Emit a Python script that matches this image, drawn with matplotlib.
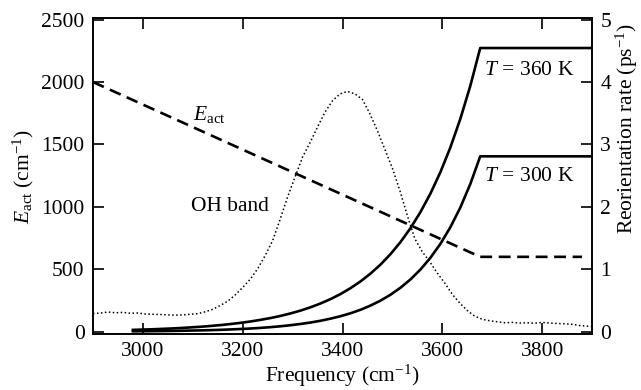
import matplotlib
matplotlib.use("Agg")
import matplotlib.pyplot as plt

plt.rcParams['font.family'] = ['Liberation Serif', 'DejaVu Serif']
plt.rcParams['mathtext.fontset'] = 'custom'
plt.rcParams['mathtext.rm'] = 'Liberation Serif'
plt.rcParams['mathtext.it'] = 'Liberation Serif:italic'
plt.rcParams['mathtext.bf'] = 'Liberation Serif:bold'
plt.rcParams['font.size'] = 15.5

# OH band (dotted, left axis scale)
oh_freq = [2900, 2915, 2930, 2945, 2960, 2975, 2990, 3005, 3020, 3035, 3050, 3065,
           3080, 3095, 3110, 3125, 3140, 3155, 3170, 3185, 3200, 3215, 3230, 3245,
           3260, 3275, 3290, 3305, 3320, 3335, 3350, 3365, 3380, 3395, 3410, 3425,
           3440, 3455, 3470, 3485, 3500, 3515, 3530, 3545, 3560, 3575, 3590, 3605,
           3620, 3635, 3650, 3665, 3680, 3695, 3710, 3725, 3740, 3755, 3770, 3785,
           3800, 3815, 3830, 3845, 3860, 3875, 3890, 3900]
oh_band = [145, 150, 158, 152, 155, 148, 150, 142, 140, 138, 135, 133,
           135, 140, 145, 160, 180, 210, 245, 295, 355, 420, 505, 610,
           730, 900, 1080, 1240, 1400, 1515, 1640, 1760, 1850, 1905, 1925, 1905,
           1860, 1745, 1610, 1460, 1310, 1130, 930, 745, 640, 560, 470, 390,
           300, 230, 170, 125, 100, 88, 80, 72, 75, 70, 72, 68,
           75, 70, 66, 64, 60, 50, 45, 42]

# Activation energy (dashed)
eact_freq = [2900, 3676, 3880]
eact = [2000, 600, 600]

# Reorientation rates (solid, right axis)
rate_freq = [2980, 2996, 3016, 3036, 3056, 3076, 3096, 3116, 3136, 3156, 3176,
             3196, 3216, 3236, 3256, 3276, 3296, 3316, 3336, 3356, 3376, 3396,
             3416, 3436, 3456, 3476, 3496, 3516, 3536, 3556, 3576, 3596, 3616,
             3636, 3656, 3676, 3900]
rate_360 = [0.030, 0.034, 0.039, 0.045, 0.052, 0.060, 0.070, 0.080, 0.093, 0.107,
            0.124, 0.143, 0.165, 0.191, 0.220, 0.254, 0.294, 0.339, 0.392, 0.453,
            0.523, 0.604, 0.698, 0.806, 0.931, 1.075, 1.242, 1.434, 1.657, 1.914,
            2.210, 2.553, 2.949, 3.407, 3.935, 4.545, 4.545]
rate_300 = [0.007, 0.008, 0.009, 0.011, 0.013, 0.016, 0.019, 0.022, 0.026, 0.031,
            0.037, 0.044, 0.052, 0.062, 0.074, 0.088, 0.105, 0.125, 0.148, 0.176,
            0.210, 0.249, 0.296, 0.352, 0.419, 0.498, 0.592, 0.704, 0.837, 0.995,
            1.183, 1.406, 1.672, 1.988, 2.364, 2.810, 2.810]

fig = plt.figure(figsize=(6.41, 3.90), dpi=100)
ax = fig.add_axes([93/641, 1-334/390, (592-93)/641, (334-18)/390])
ax2 = ax.twinx()

ylo, yhi = -18, 2513
ax.set_xlim(2900, 3900)
ax.set_ylim(ylo, yhi)
ax2.set_ylim(ylo/500, yhi/500)

ax.plot(oh_freq, oh_band, color='black', lw=1.1, linestyle=(0, (1, 1.6)))
ax.plot(eact_freq, eact, color='black', lw=1.9, linestyle=(0, (4.5, 2.5)))
ax2.plot(rate_freq, rate_360, color='black', lw=1.9, solid_joinstyle='round')
ax2.plot(rate_freq, rate_300, color='black', lw=1.9, solid_joinstyle='round')

ax.set_xticks([3000, 3200, 3400, 3600, 3800])
ax.set_yticks([0, 500, 1000, 1500, 2000, 2500])
ax2.set_yticks([0, 1, 2, 3, 4, 5])

ax.tick_params(direction='in', length=8, width=1.2, top=True, right=False, pad=6)
ax2.tick_params(direction='in', length=8, width=1.2, pad=6)
for a in (ax, ax2):
    for s in a.spines.values():
        s.set_linewidth(1.2)

ax.set_xlabel(r'Frequency (cm$^{-1}$)', labelpad=1)
ax.set_ylabel(r'$E_{\mathrm{act}}$ (cm$^{-1}$)', labelpad=4)
ax2.set_ylabel(r'Reorientation rate (ps$^{-1}$)')
ax2.yaxis.set_label_coords(1.044, 0.65)

ax.text(3100, 1740, r'$E_{\mathrm{act}}$', ha='left', va='center')
ax.text(3097, 1000, 'OH band', ha='left', va='center')
ax.text(3683, 2094, r'$T\,=\,360$ K', ha='left', va='center')
ax.text(3683, 1245, r'$T\,=\,300$ K', ha='left', va='center')

fig.savefig('out.png', dpi=100)
